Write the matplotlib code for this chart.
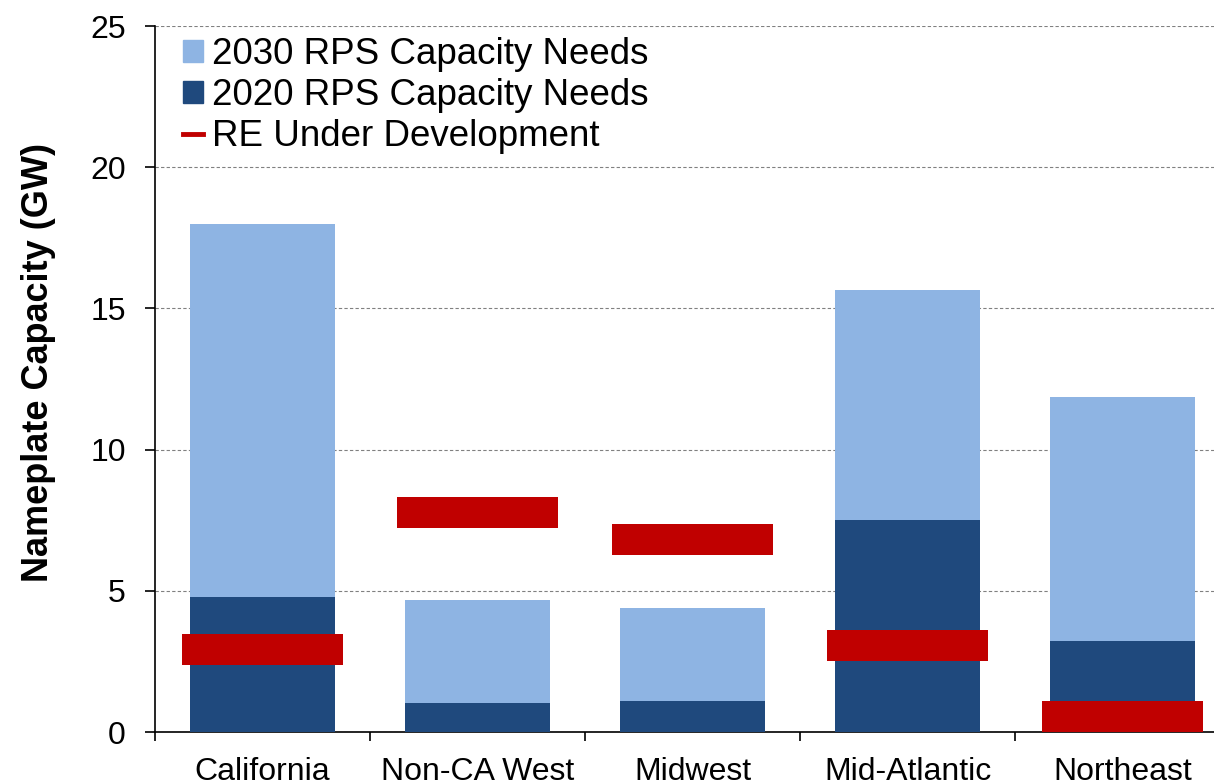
import matplotlib
matplotlib.use('Agg')
import numpy as np
from matplotlib import pyplot as plt
from matplotlib.lines import Line2D
from matplotlib.patches import Patch

plt.rcParams['font.family'] = ['Liberation Sans', 'DejaVu Sans']

regions = ['California', 'Non-CA West', 'Midwest', 'Mid-Atlantic', 'Northeast']
needs_2030 = [18.0, 4.67, 4.39, 15.65, 11.86]
needs_2020 = [4.78, 1.03, 1.10, 7.51, 3.22]
re_under_dev = [2.92, 7.79, 6.83, 3.08, 0.55]

c2030 = '#8eb4e3'
c2020 = '#1f497d'
cred = '#c00000'

fig = plt.figure(figsize=(12.14, 7.82), dpi=100)
ax = fig.add_axes([0.1277, 0.0639, 0.8855, 0.9028])

x = np.arange(len(regions))
ax.bar(x, needs_2030, width=0.675, color=c2030, zorder=2)
ax.bar(x, needs_2020, width=0.675, color=c2020, zorder=3)
# RE under development drawn as thick red dashes
thick = 1.1
ax.bar(x, [thick] * len(x), bottom=np.array(re_under_dev) - thick / 2,
       width=0.75, color=cred, zorder=4, clip_on=False)

ax.set_xlim(-0.5, len(regions) - 0.5)
ax.set_ylim(0, 25)
ax.set_yticks(range(0, 26, 5))
ax.yaxis.grid(True, linestyle=(0, (3, 2)), color='#808080', linewidth=0.8, zorder=0)
ax.set_axisbelow(True)

ax.set_xticks(x)
ax.set_xticklabels(regions, fontsize=23)
ax.set_xticks(np.arange(-0.5, len(regions), 1), minor=True)
ax.tick_params(axis='x', which='major', length=0, pad=18)
ax.tick_params(axis='x', which='minor', length=6.5, width=1.2, direction='out')
ax.tick_params(axis='y', labelsize=23, length=7, width=1.2, direction='out', pad=14)

for s in ['top', 'right']:
    ax.spines[s].set_visible(False)
ax.spines['left'].set_linewidth(1.2)
ax.spines['bottom'].set_linewidth(1.2)

ax.set_ylabel('Nameplate Capacity (GW)', fontsize=26, fontweight='bold')
ax.yaxis.set_label_coords(-0.092, 0.524)

handles = [Patch(color=c2030), Patch(color=c2020),
           Line2D([], [], color=cred, linewidth=3.5)]
labels = ['2030 RPS Capacity Needs', '2020 RPS Capacity Needs', 'RE Under Development']
ax.legend(handles, labels, loc='upper left', frameon=False, fontsize=26.5,
          handlelength=0.55, handleheight=0.55, handletextpad=0.25,
          labelspacing=0.17, borderpad=0.2, borderaxespad=0,
          bbox_to_anchor=(0.019, 0.995))

fig.savefig('out.png', dpi=100)
